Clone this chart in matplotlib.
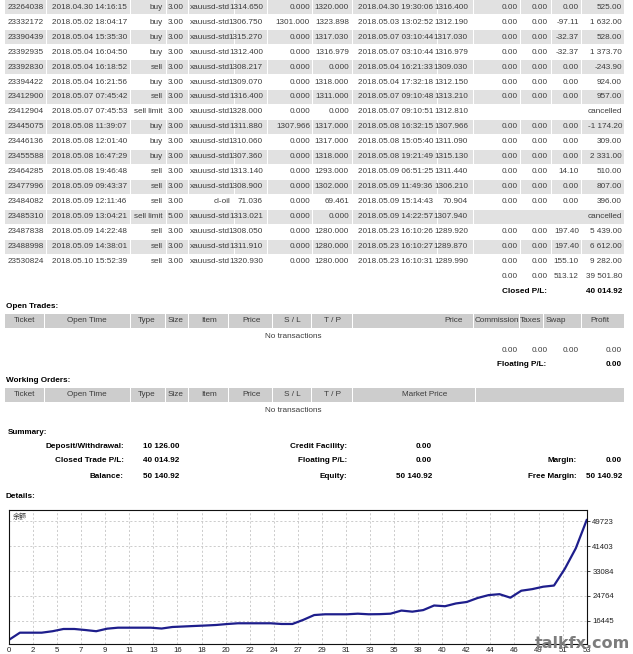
import numpy as np
import matplotlib.pyplot as plt
from matplotlib.patches import Rectangle

# closed transactions (visible part of the statement)
tickets = ['23264038', '23332172', '23390439', '23392935', '23392830', '23394422',
           '23412900', '23412904', '23445075', '23446136', '23455588', '23464285',
           '23477996', '23484082', '23485310', '23487838', '23488998', '23530824']
open_times = ['2018.04.30 14:16:15', '2018.05.02 18:04:17', '2018.05.04 15:35:30',
              '2018.05.04 16:04:50', '2018.05.04 16:18:52', '2018.05.04 16:21:56',
              '2018.05.07 07:45:42', '2018.05.07 07:45:53', '2018.05.08 11:39:07',
              '2018.05.08 12:01:40', '2018.05.08 16:47:29', '2018.05.08 19:46:48',
              '2018.05.09 09:43:37', '2018.05.09 12:11:46', '2018.05.09 13:04:21',
              '2018.05.09 14:22:48', '2018.05.09 14:38:01', '2018.05.10 15:52:39']
types = ['buy', 'buy', 'buy', 'buy', 'sell', 'buy', 'sell', 'sell limit', 'buy',
         'buy', 'buy', 'sell', 'sell', 'sell', 'sell limit', 'sell', 'sell', 'sell']
sizes = ['3.00'] * 14 + ['5.00'] + ['3.00'] * 3
items = ['xauusd-std'] * 13 + ['cl-oil'] + ['xauusd-std'] * 4
open_prices = ['1314.650', '1306.750', '1315.270', '1312.400', '1308.217', '1309.070',
               '1316.400', '1328.000', '1311.880', '1310.060', '1307.360', '1313.140',
               '1308.900', '71.036', '1313.021', '1308.050', '1311.910', '1320.930']
stop_loss = ['0.000', '1301.000', '0.000', '0.000', '0.000', '0.000', '0.000', '0.000',
             '1307.966', '0.000', '0.000', '0.000', '0.000', '0.000', '0.000', '0.000',
             '0.000', '0.000']
take_profit = ['1320.000', '1323.898', '1317.030', '1316.979', '0.000', '1318.000',
               '1311.000', '0.000', '1317.000', '1317.000', '1318.000', '1293.000',
               '1302.000', '69.461', '0.000', '1280.000', '1280.000', '1280.000']
close_times = ['2018.04.30 19:30:06', '2018.05.03 13:02:52', '2018.05.07 03:10:44',
               '2018.05.07 03:10:44', '2018.05.04 16:21:33', '2018.05.04 17:32:18',
               '2018.05.07 09:10:48', '2018.05.07 09:10:51', '2018.05.08 16:32:15',
               '2018.05.08 15:05:40', '2018.05.08 19:21:49', '2018.05.09 06:51:25',
               '2018.05.09 11:49:36', '2018.05.09 15:14:43', '2018.05.09 14:22:57',
               '2018.05.23 16:10:26', '2018.05.23 16:10:27', '2018.05.23 16:10:31']
close_prices = ['1316.400', '1312.190', '1317.030', '1316.979', '1309.030', '1312.150',
                '1313.210', '1312.810', '1307.966', '1311.090', '1315.130', '1311.440',
                '1306.210', '70.904', '1307.940', '1289.920', '1289.870', '1289.990']
swaps = ['0.00', '-97.11', '-32.37', '-32.37', '0.00', '0.00', '0.00', '', '0.00',
         '0.00', '0.00', '14.10', '0.00', '0.00', '', '197.40', '197.40', '155.10']
profits = ['525.00', '1 632.00', '528.00', '1 373.70', '-243.90', '924.00', '957.00',
           'cancelled', '-1 174.20', '309.00', '2 331.00', '510.00', '807.00', '396.00',
           'cancelled', '5 439.00', '6 612.00', '9 282.00']
totals = ['0.00', '0.00', '513.12', '39 501.80']
closed_pl = '40 014.92'

summary_left = [('Deposit/Withdrawal:', '10 126.00'), ('Closed Trade P/L:', '40 014.92'),
                ('Balance:', '50 140.92')]
summary_mid = [('Credit Facility:', '0.00'), ('Floating P/L:', '0.00'), ('Equity:', '50 140.92')]
summary_right = [('', ''), ('Margin:', '0.00'), ('Free Margin:', '50 140.92')]

# balance curve (trade number 0..53)
balance = [10126, 12510, 12510, 12510, 13000, 13746, 13746, 13400, 13000, 13846,
           14180, 14180, 14180, 14180, 13900, 14414, 14580, 14748, 14900, 15082,
           15400, 15650, 15650, 15650, 15650, 15416, 15416, 16800, 18400, 18656,
           18656, 18656, 18856, 18656, 18700, 18856, 19900, 19531.17, 20056.17, 21591.06,
           21347.16, 22271.16, 22766.79, 24108.12, 25065.12, 25374.12, 24199.92, 26530.92,
           27055.02, 27862.02, 28258.02, 33894.42, 40703.82, 50140.92]
xtick_labels = ['0', '2', '5', '7', '9', '11', '13', '16', '18', '20', '22', '24', '27',
                '29', '31', '33', '35', '38', '40', '42', '44', '46', '49', '51', '53']
ytick_values = [16445, 24764, 33084, 41403, 49723]

W, H = 633, 654
FONT = 'Liberation Sans'
FS = 5.9
TXT = '#3c3c3c'
ROW_GRAY = '#e1e1e1'
HEAD_GRAY = '#cdcdcd'

fig = plt.figure(figsize=(W / 100, H / 100), dpi=100)
ax = fig.add_axes([0, 0, 1, 1])
ax.set_xlim(0, W)
ax.set_ylim(H, 0)
ax.axis('off')


def txt(x, y, s, ha='left', bold=False, color=TXT, size=FS):
    ax.text(x, y, s, ha=ha, va='center', fontsize=size, family=FONT,
            fontweight='bold' if bold else 'normal', color=color)


def cell(x0, x1, yc, h, color):
    ax.add_patch(Rectangle((x0 + 0.5, yc - h / 2), x1 - x0 - 1, h, color=color, lw=0))


# main table
edges = [4, 46, 130, 166, 188, 234, 267, 312, 352, 437, 473, 520, 551, 581, 624]
pitch = 14.95
y0 = 7.3
for i in range(len(tickets)):
    yc = y0 + pitch * i
    cancelled = profits[i] == 'cancelled'
    if i % 2 == 0:
        stop = 10 if cancelled else len(edges) - 1
        for a, b in zip(edges[:stop], edges[1:stop + 1]):
            cell(a, b, yc, 14, ROW_GRAY)
        if cancelled:
            cell(edges[10], edges[-1], yc, 14, ROW_GRAY)
    txt(8, yc, tickets[i])
    txt(52, yc, open_times[i])
    txt(163, yc, types[i], ha='right')
    txt(168, yc, sizes[i])
    txt(230, yc, items[i], ha='right')
    txt(263, yc, open_prices[i], ha='right')
    txt(310, yc, stop_loss[i], ha='right')
    txt(349, yc, take_profit[i], ha='right')
    txt(358, yc, close_times[i])
    txt(468, yc, close_prices[i], ha='right')
    if cancelled:
        txt(622, yc, 'cancelled', ha='right')
    else:
        txt(518, yc, '0.00', ha='right')
        txt(548, yc, '0.00', ha='right')
        txt(579, yc, swaps[i], ha='right')
        txt(622, yc, profits[i], ha='right')

yt = y0 + pitch * len(tickets)
for xr, v in zip([518, 548, 579, 622], totals):
    txt(xr, yt, v, ha='right')
txt(502, yt + 15, 'Closed P/L:', bold=True, color='black')
txt(622, yt + 15, closed_pl, ha='right', bold=True, color='black')

# open trades
head_edges = [4, 44, 130, 165, 188, 228, 272, 311, 352, 473, 519, 543, 581, 624]
head_names = ['Ticket', 'Open Time', 'Type', 'Size', 'Item', 'Price', 'S / L', 'T / P']
head_x = [24, 87, 147, 176, 209, 252, 292, 332]

txt(6, 306, 'Open Trades:', bold=True, color='black')
for a, b in zip(head_edges[:-1], head_edges[1:]):
    cell(a, b, 321, 14, HEAD_GRAY)
for x, s in zip(head_x, head_names):
    txt(x, 321, s, ha='center')
txt(463, 321, 'Price', ha='right')
txt(497, 321, 'Commission', ha='center')
txt(530, 321, 'Taxes', ha='center')
txt(556, 321, 'Swap', ha='center')
txt(600, 321, 'Profit', ha='center')
txt(293, 336, 'No transactions', ha='center')
for xr in [518, 548, 579, 622]:
    txt(xr, 351, '0.00', ha='right')
txt(497, 365, 'Floating P/L:', bold=True, color='black')
txt(622, 365, '0.00', ha='right', bold=True, color='black')

# working orders
txt(6, 380, 'Working Orders:', bold=True, color='black')
wo_edges = head_edges[:9] + [475, 624]
for a, b in zip(wo_edges[:-1], wo_edges[1:]):
    cell(a, b, 395, 14, HEAD_GRAY)
for x, s in zip(head_x, head_names):
    txt(x, 395, s, ha='center')
txt(425, 395, 'Market Price', ha='center')
txt(293, 410, 'No transactions', ha='center')

# summary
txt(8, 432, 'Summary:', bold=True, color='black')
for k in range(3):
    yy = 446 + 15 * k
    txt(124, yy, summary_left[k][0], ha='right', bold=True, color='black')
    txt(143, yy, summary_left[k][1], bold=True, color='black')
    txt(347, yy, summary_mid[k][0], ha='right', bold=True, color='black')
    txt(432, yy, summary_mid[k][1], ha='right', bold=True, color='black')
    txt(577, yy, summary_right[k][0], ha='right', bold=True, color='black')
    txt(622, yy, summary_right[k][1], ha='right', bold=True, color='black')
txt(6, 497, 'Details:', bold=True, color='black')

# balance chart
left, right, top, bottom = 9, 586.7, 510, 644
cax = fig.add_axes([left / W, 1 - bottom / H, (right - left) / W, (bottom - top) / H])
n = len(balance)
cax.plot(np.arange(n), balance, color='#1e1e8c', lw=1.6, solid_joinstyle='round')
cax.set_xlim(0, n - 1)
cax.set_ylim(8730, 53490)
cax.set_xticks(np.linspace(0, n - 1, len(xtick_labels)))
cax.set_xticklabels(xtick_labels)
cax.yaxis.tick_right()
cax.set_yticks(ytick_values)
cax.set_yticklabels([str(v) for v in ytick_values])
cax.tick_params(axis='both', labelsize=5.6, colors='#222222', width=0.6)
cax.tick_params(axis='x', length=0, pad=2.5)
cax.tick_params(axis='y', length=2.5, pad=1.5)
for lab in cax.get_xticklabels() + cax.get_yticklabels():
    lab.set_family(FONT)
cax.grid(True, color='#c4c4c4', lw=0.6, linestyle=(0, (2.5, 2.5)))
for sp in cax.spines.values():
    sp.set_color('#111111')
    sp.set_linewidth(0.8)
cax.text(0.006, 0.975, '余额', transform=cax.transAxes, va='top', ha='left',
         fontsize=5, family=['Noto Sans CJK SC', 'DejaVu Sans'], color='#333333')

fig.text(582 / W, 1 - 643 / H, 'talkfx.com', ha='center', va='center', fontsize=11.5,
         fontweight='bold', family='DejaVu Sans', color='#7d7d7d')

fig.savefig('out.png', dpi=100)
